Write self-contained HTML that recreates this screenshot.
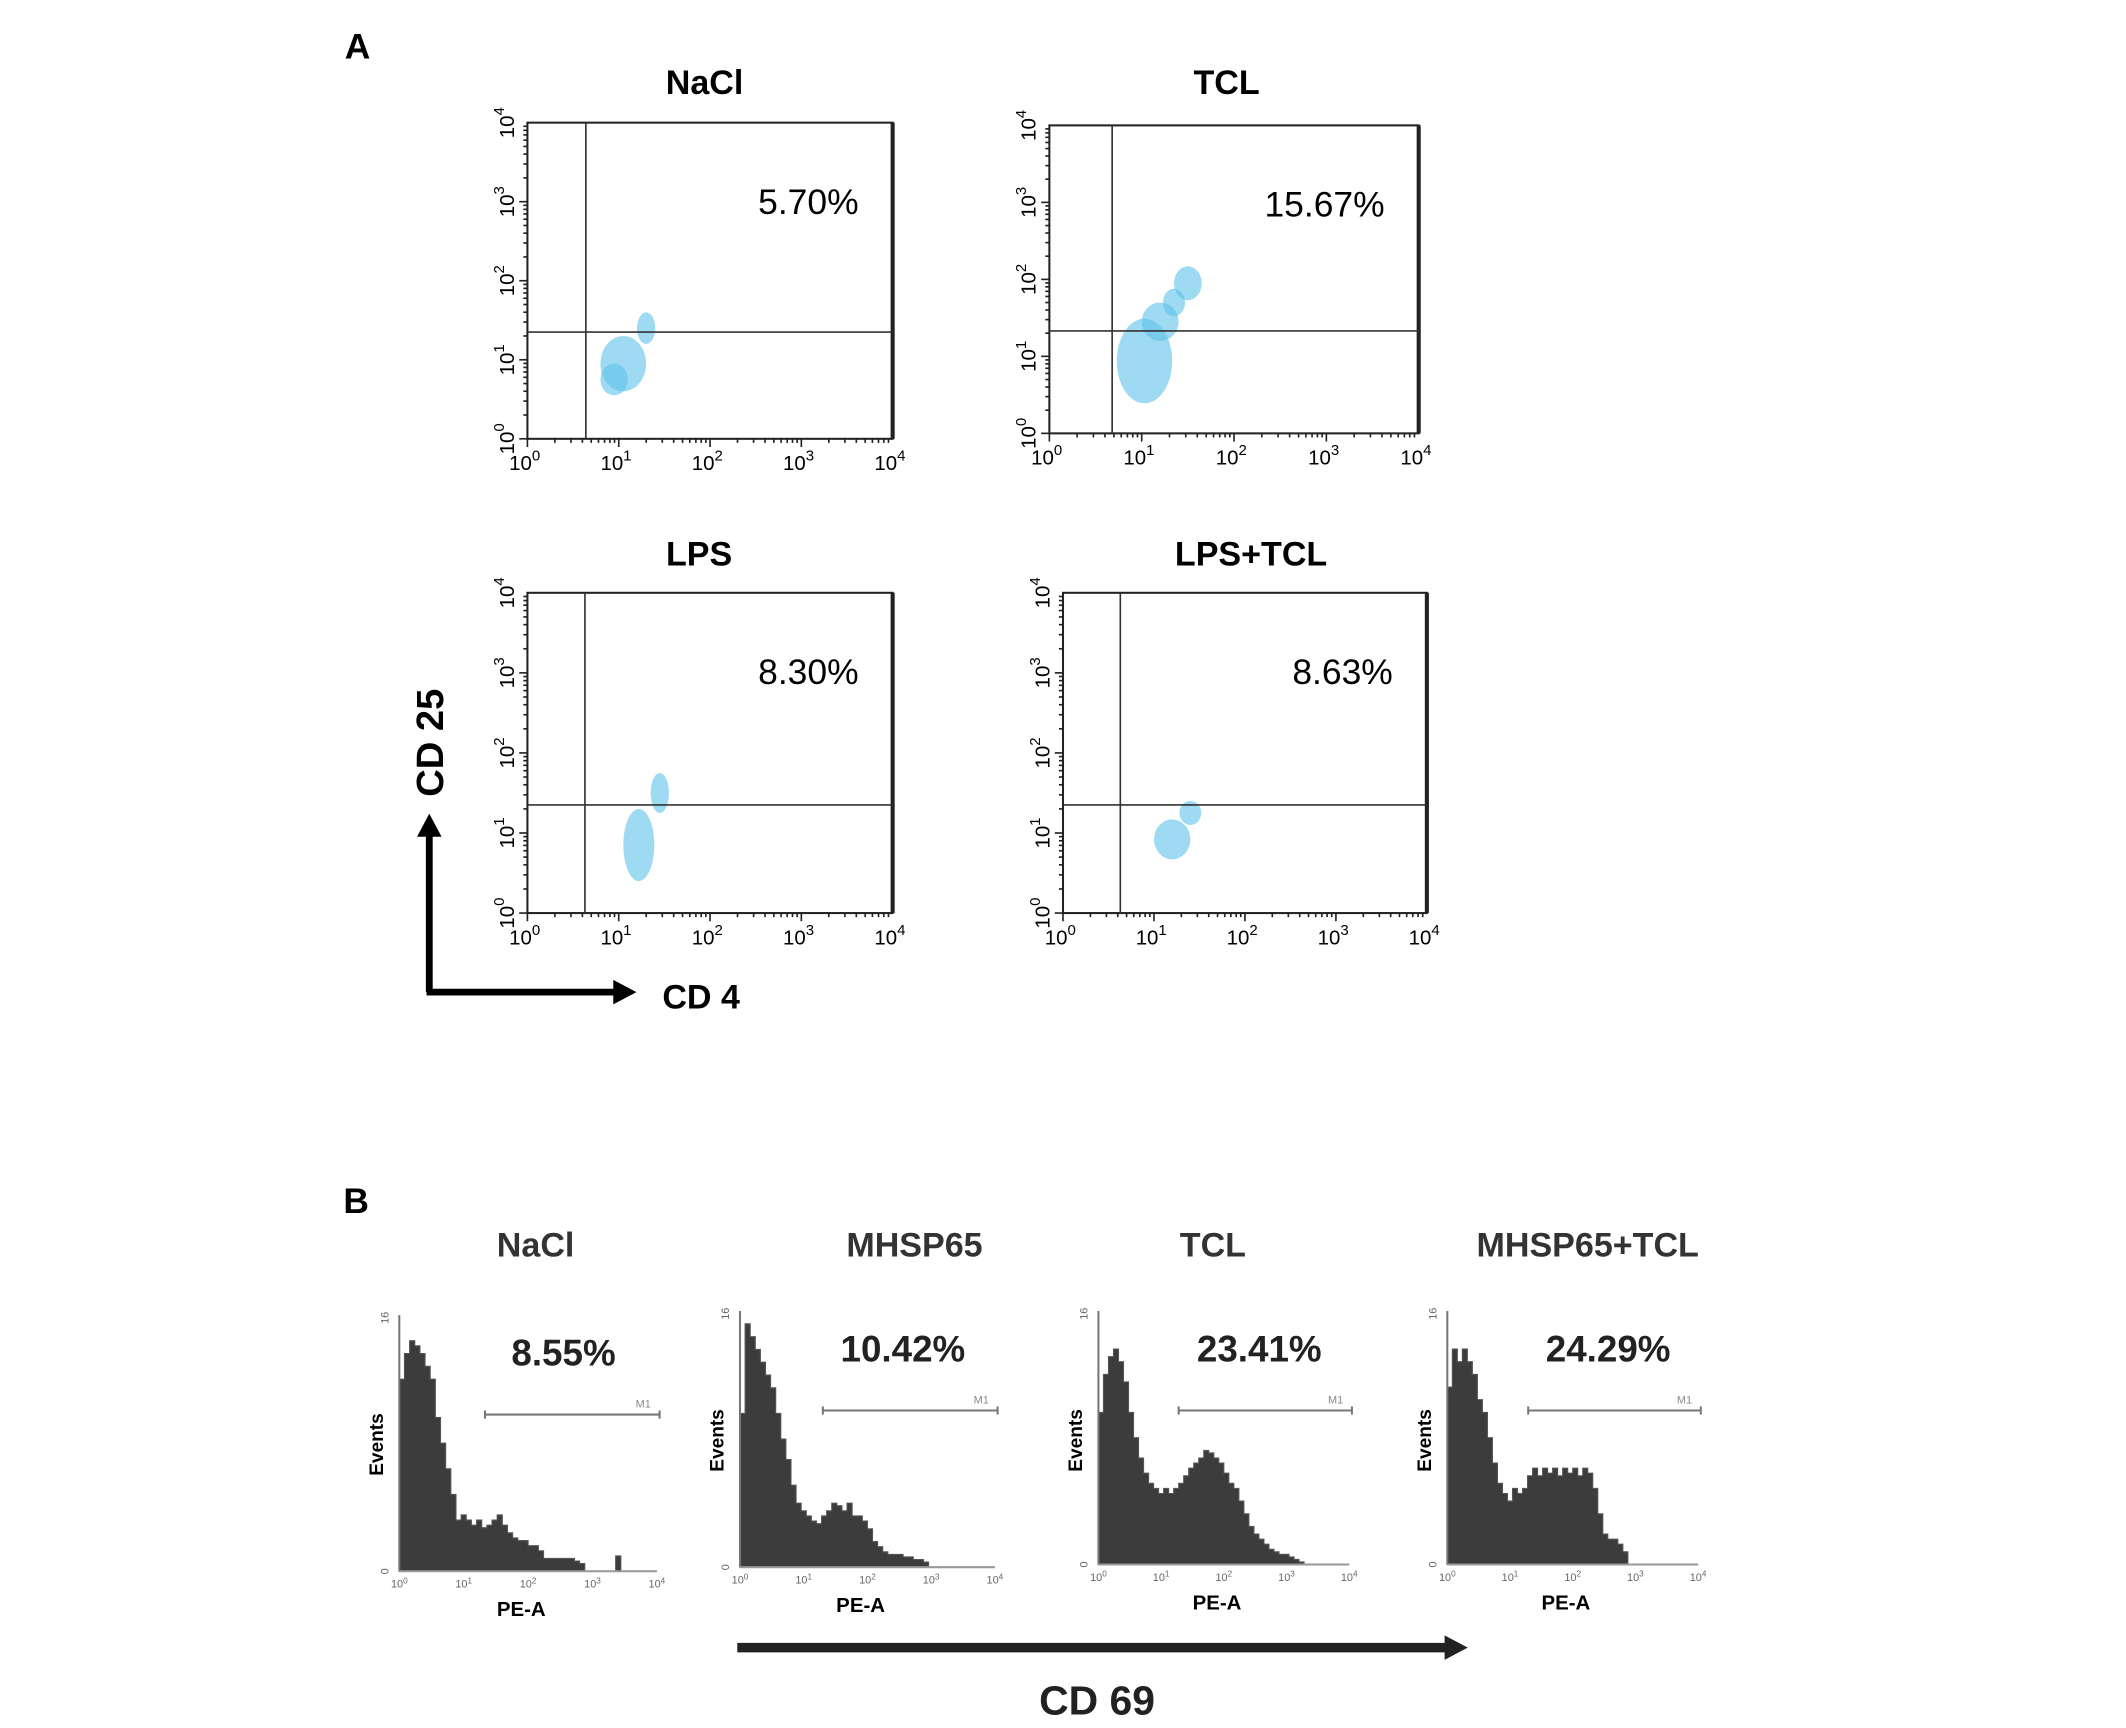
<!DOCTYPE html>
<html><head><meta charset="utf-8"><style>
html,body{margin:0;padding:0;background:#fff}
svg{display:block}
text{font-family:"Liberation Sans",sans-serif}
</style></head><body>
<svg id="fig" xmlns="http://www.w3.org/2000/svg" width="2126" height="1728" viewBox="0 0 1560 1268" preserveAspectRatio="none">
<text x="253" y="43" font-family="Liberation Serif" font-weight="bold" font-size="26">A</text>
<text x="252" y="890" font-family="Liberation Serif" font-weight="bold" font-size="26">B</text>
<g id="scat"></g>
<g id="hist"></g>
<g>
<path d="M315,728 L315,612" stroke="#000" stroke-width="5" fill="none"/>
<path d="M306,614 L315,597 L324,614 Z" fill="#000"/>
<path d="M313,728 L452,728" stroke="#000" stroke-width="5" fill="none"/>
<path d="M450,719 L467,728 L450,737 Z" fill="#000"/>
<text x="325" y="545" transform="rotate(-90 325 545)" text-anchor="middle" font-weight="bold" font-size="28">CD 25</text>
<text x="486" y="740" font-weight="bold" font-size="25">CD 4</text>
<path d="M541,1209 L1062,1209" stroke="#222" stroke-width="7"/>
<path d="M1060,1200 L1077,1209 L1060,1218 Z" fill="#222"/>
<text x="805" y="1258" text-anchor="middle" font-weight="bold" font-size="30" fill="#222">CD 69</text>
</g>
</svg>
<script>
// Panel A data
const scTitles = ["NaCl", "TCL", "LPS", "LPS+TCL"];
const scPercents = ["5.70%", "15.67%", "8.30%", "8.63%"];
const scGateX = [0.64, 0.68, 0.63, 0.63];   // log10 CD4 gate
const scGateY = [1.35, 1.33, 1.35, 1.35];   // log10 CD25 gate
// clusters: [cx, cy, rx, ry] in log units for each plot
const scClusters = [
  [[1.05,0.95,0.25,0.35],[1.3,1.4,0.1,0.2],[0.95,0.75,0.15,0.2]],
  [[1.03,0.94,0.3,0.55],[1.2,1.45,0.2,0.25],[1.5,1.95,0.15,0.22],[1.35,1.7,0.12,0.18]],
  [[1.22,0.85,0.17,0.45],[1.45,1.5,0.1,0.25]],
  [[1.2,0.92,0.2,0.25],[1.4,1.25,0.12,0.15]]
];
const tickLabels = ["0","1","2","3","4"];

// Panel B data (50 bins over 4 decades; fraction of axis height)
const hTitles = ["NaCl","MHSP65","TCL","MHSP65+TCL"];
const hPercents = ["8.55%","10.42%","23.41%","24.29%"];
const hNaCl = [0.75,0.85,0.9,0.88,0.85,0.8,0.75,0.6,0.5,0.4,0.3,0.2,0.22,0.2,0.18,0.2,0.17,0.18,0.2,0.22,0.18,0.15,0.13,0.12,0.12,0.1,0.1,0.08,0.05,0.05,0.05,0.05,0.05,0.05,0.04,0.03,0,0,0,0,0,0,0.06,0,0,0,0,0,0,0];
const hMHSP = [0.6,0.95,0.9,0.85,0.8,0.75,0.7,0.6,0.5,0.42,0.32,0.25,0.22,0.2,0.18,0.17,0.2,0.22,0.25,0.24,0.22,0.25,0.2,0.2,0.18,0.15,0.1,0.08,0.06,0.05,0.05,0.05,0.04,0.04,0.03,0.03,0.02,0,0,0,0,0,0,0,0,0,0,0,0,0];
const hTCL = [0.6,0.75,0.82,0.85,0.8,0.72,0.6,0.5,0.42,0.36,0.32,0.3,0.28,0.3,0.28,0.3,0.32,0.35,0.38,0.4,0.42,0.45,0.44,0.42,0.4,0.36,0.32,0.3,0.25,0.2,0.15,0.12,0.1,0.08,0.06,0.05,0.04,0.04,0.03,0.02,0.01,0,0,0,0,0,0,0,0,0];
const hMT = [0.7,0.85,0.8,0.85,0.8,0.75,0.65,0.6,0.5,0.4,0.32,0.28,0.25,0.3,0.28,0.3,0.35,0.38,0.35,0.38,0.36,0.38,0.35,0.38,0.36,0.38,0.35,0.38,0.36,0.3,0.2,0.12,0.1,0.1,0.08,0.05,0,0,0,0,0,0,0,0,0,0,0,0,0,0];
const hSeries = [hNaCl, hMHSP, hTCL, hMT];
const hGateStart = [1.33,1.3,1.28,1.29];

const NS="http://www.w3.org/2000/svg";
function mk(tag, attrs, parent){const e=document.createElementNS(NS,tag);for(const k in attrs)e.setAttribute(k,attrs[k]);parent.appendChild(e);return e;}

const scBoxes=[[387,90,655,322,517,60],[770,92,1041,318,900,60],[387,435,655,670,513,406],[780,435,1047,670,918,406]];
const scat=document.getElementById('scat');
scBoxes.forEach((b,i)=>{
  const [x0,y0,x1,y1,tx,ty]=b;
  const sx=v=>x0+(x1-x0)*v/4, sy=v=>y1-(y1-y0)*v/4;
  const g=mk('g',{},scat);
  
  
  const t=mk('text',{x:tx,y:ty+9,'text-anchor':'middle','font-weight':'bold','font-size':25},g);t.textContent=scTitles[i];
  
  
  scClusters[i].forEach(c=>{
    const e=mk('ellipse',{cx:sx(c[0]),cy:sy(c[1]),rx:(x1-x0)*c[2]/4,ry:(y1-y0)*c[3]/4,fill:'#5ec2ea','fill-opacity':0.6},g);
    
    
  });
  mk('rect',{x:x0,y:y0,width:x1-x0,height:y1-y0,fill:'none',stroke:'#222','stroke-width':1.5},g);
  mk('line',{x1:x1,y1:y0,x2:x1,y2:y1,stroke:'#222','stroke-width':3},g);
  mk('line',{x1:sx(scGateX[i]),y1:y0,x2:sx(scGateX[i]),y2:y1,stroke:'#333','stroke-width':1.2},g);
  mk('line',{x1:x0,y1:sy(scGateY[i]),x2:x1,y2:sy(scGateY[i]),stroke:'#333','stroke-width':1.2},g);
  for(let d=0;d<4;d++)for(let k=1;k<10;k++){const v=d+Math.log10(k);const L=k===1?6:3;
    mk('line',{x1:sx(v),y1:y1,x2:sx(v),y2:y1+L,stroke:'#222','stroke-width':1.2},g);
    mk('line',{x1:x0,y1:sy(v),x2:x0-L,y2:sy(v),stroke:'#222','stroke-width':1.2},g);}
  tickLabels.forEach((l,j)=>{
    const xl=mk('text',{x:sx(j)-2,y:y1+23,'text-anchor':'middle','font-size':15},g);xl.innerHTML='10<tspan dy="-7" font-size="11">'+l+'</tspan>';
    const yl=mk('text',{x:x0-12,y:sy(j)+2,'text-anchor':'middle','font-size':15,transform:`rotate(-90 ${x0-12} ${sy(j)})`},g);yl.innerHTML='10<tspan dy="-7" font-size="11">'+l+'</tspan>';
  });
  const p=mk('text',{x:x1-25,y:y0+67,'text-anchor':'end','font-size':26},g);p.textContent=scPercents[i];
  
  
});

const hBoxes=[[293,965,482,1153,393,968],[543,962,730,1150,671,962],[806,962,990,1148,890,962],[1062,962,1246,1148,1165,962]];
const hist=document.getElementById('hist');
hBoxes.forEach((b,i)=>{
  const [x0,y0,x1,y1,tx]=b;
  const sx=v=>x0+(x1-x0)*v/4, sy=f=>y1-(y1-y0)*f;
  const g=mk('g',{},hist);
  
  
  const t=mk('text',{x:tx,y:922,'text-anchor':'middle','font-weight':'bold','font-size':25,fill:'#333'},g);t.textContent=hTitles[i];
  const data=hSeries[i];const n=data.length;let d=`M${sx(0)},${y1}`;
  data.forEach((v,j)=>{d+=` L${sx(j*4/n)},${sy(v)} L${sx((j+1)*4/n)},${sy(v)}`;});
  d+=` L${sx(4)},${y1} Z`;
  const path=mk('path',{d:d,fill:'#3c3c3c',stroke:'#555','stroke-width':0.8},g);
  
  
  mk('line',{x1:x0,y1:y0,x2:x0,y2:y1,stroke:'#777','stroke-width':1.5},g);
  mk('line',{x1:x0,y1:y1,x2:x1,y2:y1,stroke:'#999','stroke-width':1.5},g);
  for(let k=0;k<=4;k++){const l=mk('text',{x:sx(k),y:y1+12,'text-anchor':'middle','font-size':8,fill:'#666'},g);l.innerHTML='10<tspan dy="-3" font-size="6">'+k+'</tspan>';}
  const e0=mk('text',{x:x0-8,y:y1,'font-size':8,fill:'#666',transform:`rotate(-90 ${x0-8} ${y1})`,'text-anchor':'middle'},g);e0.textContent='0';
  const e16=mk('text',{x:x0-8,y:y0+2,'font-size':8,fill:'#666',transform:`rotate(-90 ${x0-8} ${y0+2})`,'text-anchor':'middle'},g);e16.textContent='16';
  const ev=mk('text',{x:x0-12,y:y0+95,'font-size':14,'font-weight':'bold',transform:`rotate(-90 ${x0-12} ${y0+95})`,'text-anchor':'middle'},g);ev.textContent='Events';
  const pe=mk('text',{x:(x0+x1)/2-5,y:y1+33,'font-size':15,'font-weight':'bold','text-anchor':'middle'},g);pe.textContent='PE-A';
  const gy=y0+73, gx=sx(hGateStart[i]);
  mk('line',{x1:gx,y1:gy,x2:x1+2,y2:gy,stroke:'#777','stroke-width':1.5},g);
  mk('line',{x1:gx,y1:gy-3,x2:gx,y2:gy+3,stroke:'#777','stroke-width':1.5},g);
  mk('line',{x1:x1+2,y1:gy-3,x2:x1+2,y2:gy+3,stroke:'#777','stroke-width':1.5},g);
  const m=mk('text',{x:x1-10,y:gy-5,'font-size':8,fill:'#888','text-anchor':'middle'},g);m.textContent='M1';
  const p=mk('text',{x:(x0+x1)/2+26,y:y0+37,'text-anchor':'middle','font-weight':'bold','font-size':27,fill:'#222'},g);p.textContent=hPercents[i];
  
  
});
</script>
</body></html>
